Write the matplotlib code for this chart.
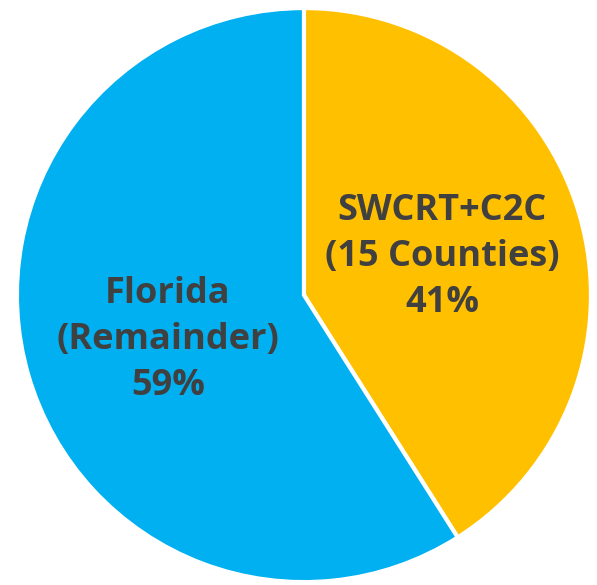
import matplotlib.pyplot as plt

# slice data (clockwise from 12 o'clock)
labels = ['SWCRT+C2C\n(15 Counties)', 'Florida\n(Remainder)']
shares = [41, 59]
colors = ['#FFC000', '#00B0F0']

fig = plt.figure(figsize=(5.97, 5.85), dpi=100)
ax = fig.add_axes([0, 0, 1, 1])

wedges, _ = ax.pie(shares, colors=colors, startangle=90, counterclock=False,
                   radius=1.0, wedgeprops=dict(edgecolor='white', linewidth=3))

# label spots, picked by eye
label_xy = [(0.481, 0.132), (-0.474, -0.157)]
for lab, v, (x, y) in zip(labels, shares, label_xy):
    ax.text(x, y, f'{lab}\n{v}%', ha='center', va='center', fontsize=26,
            fontweight='bold', color='#404040', family='Open Sans',
            linespacing=1.37)

ax.set_xlim(-1.059, 1.021)
ax.set_ylim(-1.010, 1.028)
ax.set_aspect('equal')
ax.axis('off')

fig.savefig('out.png', dpi=100)
